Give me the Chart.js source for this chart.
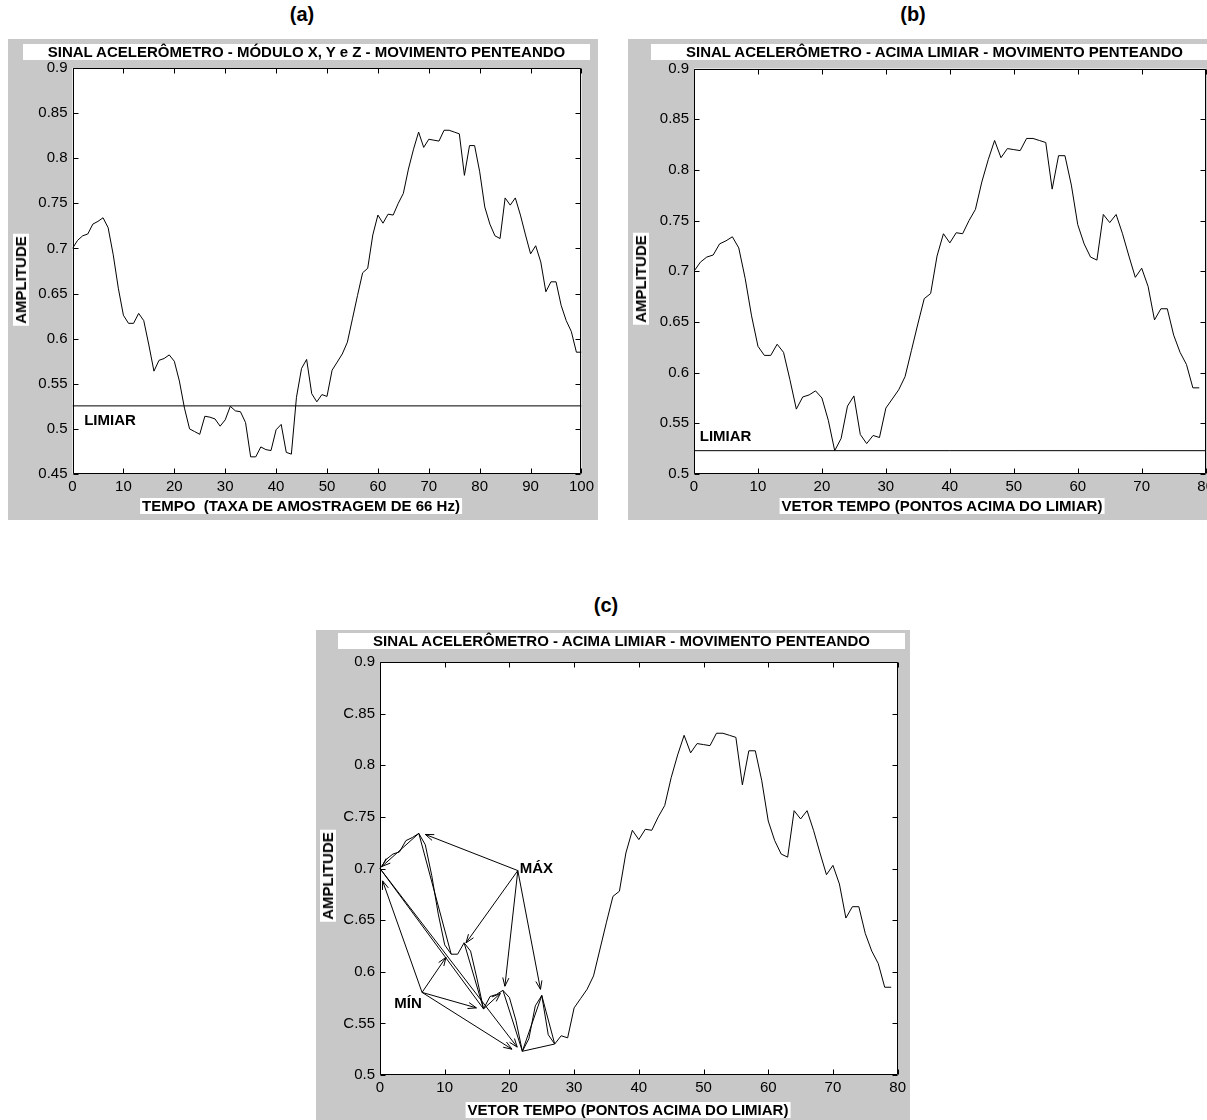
<!DOCTYPE html>
<html lang="pt">
<head>
<meta charset="utf-8">
<title>Sinal acelerômetro - movimento penteando</title>
<script src="https://cdn.jsdelivr.net/npm/chart.js@4.4.1/dist/chart.umd.min.js"></script>
<style>
  html, body { margin: 0; padding: 0; width: 1207px; height: 1120px; overflow: hidden; background: #fff; }
  body { position: relative; font-family: "Liberation Sans", Arial, sans-serif; color: #000; }
  .caption { position: absolute; font-weight: bold; font-size: 20px; transform: translateX(-50%); }
  .panel { position: absolute; background: #c8c8c8; }
  .panel canvas { position: absolute; left: 0; top: 0; }
  .title, .xlabel, .ylabel { position: absolute; background: #fff; font-weight: bold; font-size: 15px; line-height: 16px; white-space: nowrap; }
  .title { text-align: center; }
  .xlabel { transform: translateX(-50%); padding: 0 2px; }
  .ylabel { transform: translate(-50%, -50%) rotate(-90deg); padding: 0 2px; }
</style>
</head>
<body>

<div class="caption" style="left:302px; top:3px">(a)</div>
<div class="panel" style="left:8px; top:39px; width:590px; height:481px">
  <canvas id="chartA" width="590" height="481"></canvas>
  <div class="title" style="left:15px; top:5px; width:567px">SINAL ACELERÔMETRO - MÓDULO X, Y e Z - MOVIMENTO PENTEANDO</div>
  <div class="xlabel" style="left:293px; top:459px">TEMPO&nbsp; (TAXA DE AMOSTRAGEM DE 66 Hz)</div>
  <div class="ylabel" style="left:13px; top:241px">AMPLITUDE</div>
</div>

<div class="caption" style="left:913px; top:3px">(b)</div>
<div class="panel" style="left:628px; top:39px; width:590px; height:481px">
  <canvas id="chartB" width="590" height="481"></canvas>
  <div class="title" style="left:23px; top:5px; width:567px">SINAL ACELERÔMETRO - ACIMA LIMIAR - MOVIMENTO PENTEANDO</div>
  <div class="xlabel" style="left:314px; top:459px">VETOR TEMPO (PONTOS ACIMA DO LIMIAR)</div>
  <div class="ylabel" style="left:13px; top:240px">AMPLITUDE</div>
</div>

<div class="caption" style="left:606px; top:594px">(c)</div>
<div class="panel" style="left:316px; top:630px; width:594px; height:490px">
  <canvas id="chartC" width="594" height="490"></canvas>
  <div class="title" style="left:22px; top:3px; width:567px">SINAL ACELERÔMETRO - ACIMA LIMIAR - MOVIMENTO PENTEANDO</div>
  <div class="xlabel" style="left:312px; top:472px">VETOR TEMPO (PONTOS ACIMA DO LIMIAR)</div>
  <div class="ylabel" style="left:12px; top:246px">AMPLITUDE</div>
</div>

<script>
// (a) modulo of X, Y and Z, 101 samples at 66 Hz
const amplitudeA = [
  0.700, 0.709, 0.714, 0.716, 0.727, 0.730, 0.734, 0.723, 0.693, 0.656,
  0.626, 0.617, 0.617, 0.628, 0.620, 0.593, 0.564, 0.576, 0.578, 0.582,
  0.575, 0.553, 0.523, 0.500, 0.497, 0.494, 0.514, 0.513, 0.511, 0.503,
  0.510, 0.525, 0.520, 0.519, 0.507, 0.469, 0.469, 0.480, 0.477, 0.476,
  0.499, 0.505, 0.474, 0.472, 0.535, 0.567, 0.577, 0.539, 0.530, 0.538,
  0.536, 0.565, 0.574, 0.583, 0.596, 0.622, 0.648, 0.673, 0.678, 0.715,
  0.737, 0.728, 0.738, 0.737, 0.750, 0.761, 0.788, 0.810, 0.829, 0.812,
  0.821, 0.820, 0.819, 0.831, 0.831, 0.829, 0.827, 0.781, 0.814, 0.814,
  0.785, 0.746, 0.727, 0.714, 0.711, 0.756, 0.748, 0.756, 0.737, 0.715,
  0.694, 0.703, 0.685, 0.652, 0.663, 0.663, 0.637, 0.620, 0.608, 0.585,
  0.585
];
const limiarA = 0.5255;

// (b) and (c): only the points above the threshold, 80 samples
const amplitudeB = [
  0.700, 0.709, 0.714, 0.716, 0.727, 0.730, 0.734, 0.723, 0.693, 0.656,
  0.626, 0.617, 0.617, 0.628, 0.620, 0.593, 0.564, 0.576, 0.578, 0.582,
  0.575, 0.553, 0.523, 0.535, 0.567, 0.577, 0.539, 0.530, 0.538, 0.536,
  0.565, 0.574, 0.583, 0.596, 0.622, 0.648, 0.673, 0.678, 0.715, 0.737,
  0.728, 0.738, 0.737, 0.750, 0.761, 0.788, 0.810, 0.829, 0.812, 0.821,
  0.820, 0.819, 0.831, 0.831, 0.829, 0.827, 0.781, 0.814, 0.814, 0.785,
  0.746, 0.727, 0.714, 0.711, 0.756, 0.748, 0.756, 0.737, 0.715, 0.694,
  0.703, 0.685, 0.652, 0.663, 0.663, 0.637, 0.620, 0.608, 0.585, 0.585
];
const limiarB = 0.523;

const yTicksA = ['0.45', '0.5', '0.55', '0.6', '0.65', '0.7', '0.75', '0.8', '0.85', '0.9'];
const yTicksB = ['0.5', '0.55', '0.6', '0.65', '0.7', '0.75', '0.8', '0.85', '0.9'];
const yTicksC = ['0.5', 'C.55', '0.6', 'C.65', '0.7', 'C.75', '0.8', 'C.85', '0.9'];

// (c) arrows of the max / min search, data coordinates
const noMax = [21.3, 0.698];
const alvosMax = [[7, 0.733], [13.3, 0.628], [19.3, 0.586], [24.8, 0.583]];
const noMin = [6.5, 0.580];
const alvosMin = [[0.4, 0.688], [10.2, 0.614], [14.9, 0.565], [20.4, 0.525]];
const setasExtra = [[[16, 0.564], [18.6, 0.579]], [[0, 0.700], [21.2, 0.527]], [[6, 0.734], [0.3, 0.702]]];
const linhasExtra = [
  [[0, 0.700], [16, 0.564]], [[22, 0.523], [27, 0.530]], [[6, 0.734], [11, 0.617]],
  [[13, 0.628], [16, 0.564]], [[19, 0.582], [22, 0.523]], [[22, 0.523], [25, 0.577]], [[25, 0.577], [27, 0.530]]
];

const FONT = '"Liberation Sans", Arial, sans-serif';
const TICK_FONT = '"Liberation Sans Narrow", "Liberation Sans", Arial, sans-serif';
Chart.defaults.font.family = FONT;
Chart.defaults.color = '#000';

const toPoints = vals => vals.map((v, i) => ({ x: i, y: v }));

// white axes, matlab style box with ticks pointing inwards on all four sides
const axesBox = {
  id: 'axesBox',
  beforeDatasetsDraw(chart) {
    const { ctx, chartArea: a } = chart;
    ctx.save();
    ctx.fillStyle = '#fff';
    ctx.fillRect(a.left, a.top, a.width, a.height);
    ctx.restore();
  },
  afterDatasetsDraw(chart) {
    const { ctx, chartArea: a, scales: { x, y } } = chart;
    const L = Math.round(a.left) + 0.5, R = Math.round(a.right) - 0.5;
    const T = Math.round(a.top) + 0.5, B = Math.round(a.bottom) - 0.5;
    ctx.save();
    ctx.strokeStyle = '#000';
    ctx.lineWidth = 1;
    ctx.beginPath();
    ctx.rect(L, T, R - L, B - T);
    x.ticks.forEach((t, i) => {
      const px = Math.round(x.getPixelForTick(i)) + 0.5;
      ctx.moveTo(px, B); ctx.lineTo(px, B - 5);
      ctx.moveTo(px, T); ctx.lineTo(px, T + 5);
    });
    y.ticks.forEach((t, i) => {
      const py = Math.round(y.getPixelForTick(i)) + 0.5;
      ctx.moveTo(L, py); ctx.lineTo(L + 5, py);
      ctx.moveTo(R, py); ctx.lineTo(R - 5, py);
    });
    ctx.stroke();
    ctx.restore();
  }
};

// text and arrows placed in data coordinates
const notes = {
  id: 'notes',
  afterDatasetsDraw(chart, args, opts) {
    const { ctx, scales: { x, y } } = chart;
    ctx.save();
    ctx.strokeStyle = '#000';
    ctx.lineWidth = 1;
    (opts.lines || []).forEach(([p, q, head]) => {
      const x0 = x.getPixelForValue(p[0]), y0 = y.getPixelForValue(p[1]);
      const x1 = x.getPixelForValue(q[0]), y1 = y.getPixelForValue(q[1]);
      ctx.beginPath();
      ctx.moveTo(x0, y0);
      ctx.lineTo(x1, y1);
      if (head) {
        const ang = Math.atan2(y1 - y0, x1 - x0), len = 9, w = 0.35;
        ctx.moveTo(x1 - len * Math.cos(ang - w), y1 - len * Math.sin(ang - w));
        ctx.lineTo(x1, y1);
        ctx.lineTo(x1 - len * Math.cos(ang + w), y1 - len * Math.sin(ang + w));
      }
      ctx.stroke();
    });
    ctx.fillStyle = '#000';
    ctx.font = 'bold 15px ' + FONT;
    ctx.textBaseline = 'middle';
    (opts.texts || []).forEach(t => {
      ctx.textAlign = t.align || 'left';
      ctx.fillText(t.text, x.getPixelForValue(t.x), y.getPixelForValue(t.y));
    });
    ctx.restore();
  }
};

function panelChart(id, area, series, limiar, xMax, yMin, yLabels, noteOpts) {
  const canvas = document.getElementById(id);
  const yW = 44, xH = 22;
  const datasets = [{ data: toPoints(series), borderColor: '#000', borderWidth: 1, pointRadius: 0, tension: 0 }];
  if (limiar !== null) {
    datasets.push({ data: [{ x: 0, y: limiar }, { x: xMax, y: limiar }], borderColor: '#000', borderWidth: 1, pointRadius: 0 });
  }
  return new Chart(canvas, {
    type: 'line',
    data: { datasets },
    options: {
      responsive: false,
      animation: false,
      events: [],
      layout: {
        autoPadding: false,
        padding: { left: area.left - yW, top: area.top, right: canvas.width - area.right, bottom: canvas.height - area.bottom - xH }
      },
      scales: {
        x: {
          type: 'linear', min: 0, max: xMax,
          afterFit: s => { s.height = xH; },
          ticks: { stepSize: 10, maxRotation: 0, padding: 4, font: { family: TICK_FONT, size: 15 } },
          grid: { display: false, drawTicks: false },
          border: { display: false }
        },
        y: {
          type: 'linear', min: yMin, max: 0.9,
          afterFit: s => { s.width = yW; },
          ticks: { stepSize: 0.05, padding: 5, font: { family: TICK_FONT, size: 15 }, callback: (v, i) => yLabels[i] },
          grid: { display: false, drawTicks: false },
          border: { display: false }
        }
      },
      plugins: { legend: { display: false }, tooltip: { enabled: false }, notes: noteOpts }
    },
    plugins: [axesBox, notes]
  });
}

panelChart('chartA', { left: 64.5, top: 29, right: 577, bottom: 435 }, amplitudeA, limiarA, 100, 0.45, yTicksA,
  { texts: [{ text: 'LIMIAR', x: 2.3, y: 0.509 }] });

panelChart('chartB', { left: 66, top: 29.5, right: 580, bottom: 435 }, amplitudeB, limiarB, 80, 0.5, yTicksB,
  { texts: [{ text: 'LIMIAR', x: 0.9, y: 0.5365 }] });

const setas = [
  ...alvosMax.map(p => [noMax, p, true]),
  ...alvosMin.map(p => [noMin, p, true]),
  ...setasExtra.map(([p, q]) => [p, q, true]),
  ...linhasExtra.map(([p, q]) => [p, q, false])
];
panelChart('chartC', { left: 64, top: 32, right: 582, bottom: 445 }, amplitudeB, null, 80, 0.5, yTicksC,
  { lines: setas, texts: [{ text: 'MÁX', x: 21.6, y: 0.700 }, { text: 'MÍN', x: 2.2, y: 0.569 }] });
</script>
</body>
</html>
